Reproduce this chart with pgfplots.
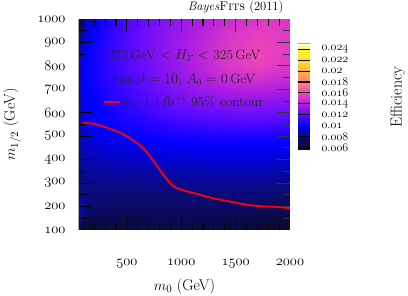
\documentclass[border=0pt]{standalone}
\usepackage{pgfplots}
\pgfplotsset{compat=1.18}
\usepackage{pgfplotstable}
\newcommand{\osf}[1]{{\usefont{OML}{cmm}{m}{it}#1}}
\pgfplotstableread{
x y c
60 1000 0.0060
120 1000 0.0090
300 1000 0.0105
600 1000 0.0120
1000 1000 0.0134
1400 1000 0.0147
1700 1000 0.0153
2000 1000 0.0153
60 950 0.0075
120 950 0.0095
300 950 0.0107
600 950 0.0121
1000 950 0.0136
1400 950 0.0150
1700 950 0.0156
2000 950 0.0154
60 900 0.0088
120 900 0.0098
300 900 0.0108
600 900 0.0122
1000 900 0.0137
1400 900 0.0152
1700 900 0.0158
2000 900 0.0155
60 850 0.0092
120 850 0.0100
300 850 0.0109
600 850 0.0122
1000 850 0.0137
1400 850 0.0153
1700 850 0.0160
2000 850 0.0155
60 800 0.0094
120 800 0.0100
300 800 0.0109
600 800 0.0121
1000 800 0.0136
1400 800 0.0152
1700 800 0.0158
2000 800 0.0153
60 750 0.0095
120 750 0.0100
300 750 0.0108
600 750 0.0119
1000 750 0.0134
1400 750 0.0147
1700 750 0.0150
2000 750 0.0147
60 700 0.0095
120 700 0.0099
300 700 0.0106
600 700 0.0117
1000 700 0.0130
1400 700 0.0140
1700 700 0.0142
2000 700 0.0140
60 650 0.0094
120 650 0.0098
300 650 0.0104
600 650 0.0114
1000 650 0.0125
1400 650 0.0131
1700 650 0.0132
2000 650 0.0130
60 600 0.0093
120 600 0.0097
300 600 0.0102
600 600 0.0110
1000 600 0.0119
1400 600 0.0123
1700 600 0.0124
2000 600 0.0122
60 550 0.0092
120 550 0.0096
300 550 0.0100
600 550 0.0105
1000 550 0.0111
1400 550 0.0114
1700 550 0.0115
2000 550 0.0113
60 500 0.0090
120 500 0.0094
300 500 0.0098
600 500 0.0101
1000 500 0.0104
1400 500 0.0106
1700 500 0.0106
2000 500 0.0104
60 450 0.0088
120 450 0.0091
300 450 0.0094
600 450 0.0096
1000 450 0.0098
1400 450 0.0099
1700 450 0.0099
2000 450 0.0097
60 400 0.0085
120 400 0.0088
300 400 0.0090
600 400 0.0092
1000 400 0.0093
1400 400 0.0094
1700 400 0.0094
2000 400 0.0092
60 350 0.0082
120 350 0.0085
300 350 0.0086
600 350 0.0087
1000 350 0.0088
1400 350 0.0089
1700 350 0.0089
2000 350 0.0087
60 300 0.0080
120 300 0.0082
300 300 0.0083
600 300 0.0083
1000 300 0.0084
1400 300 0.0084
1700 300 0.0084
2000 300 0.0082
60 250 0.0085
120 250 0.0080
300 250 0.0079
600 250 0.0079
1000 250 0.0079
1400 250 0.0080
1700 250 0.0079
2000 250 0.0077
60 200 0.0095
120 200 0.0080
300 200 0.0075
600 200 0.0075
1000 200 0.0075
1400 200 0.0075
1700 200 0.0074
2000 200 0.0072
60 150 0.0090
120 150 0.0070
300 150 0.0070
600 150 0.0070
1000 150 0.0070
1400 150 0.0070
1700 150 0.0068
2000 150 0.0065
60 100 0.0065
120 100 0.0062
300 100 0.0066
600 100 0.0067
1000 100 0.0067
1400 100 0.0066
1700 100 0.0063
2000 100 0.0060
}\effdata
\pgfplotstableread{
x y
90 558
207 552
330 534
453 512
575 477
667 441
759 384
836 335
913 292
1000 272
1143 254
1296 235
1449 221
1663 204
1848 199
2000 193
}\contour
\pgfplotstableread{
x y c
0 0.0055 0.0055
1 0.0055 0.0055
0 0.0065 0.0065
1 0.0065 0.0065
0 0.0075 0.0075
1 0.0075 0.0075
0 0.0085 0.0085
1 0.0085 0.0085
0 0.0095 0.0095
1 0.0095 0.0095
0 0.0105 0.0105
1 0.0105 0.0105
0 0.0115 0.0115
1 0.0115 0.0115
0 0.0125 0.0125
1 0.0125 0.0125
0 0.0135 0.0135
1 0.0135 0.0135
0 0.0145 0.0145
1 0.0145 0.0145
0 0.0155 0.0155
1 0.0155 0.0155
0 0.0165 0.0165
1 0.0165 0.0165
0 0.0175 0.0175
1 0.0175 0.0175
0 0.0185 0.0185
1 0.0185 0.0185
0 0.0195 0.0195
1 0.0195 0.0195
0 0.0205 0.0205
1 0.0205 0.0205
0 0.0215 0.0215
1 0.0215 0.0215
0 0.0225 0.0225
1 0.0225 0.0225
0 0.0235 0.0235
1 0.0235 0.0235
0 0.0245 0.0245
1 0.0245 0.0245
0 0.0250 0.0250
1 0.0250 0.0250
}\cbar
\pgfplotsset{
  colormap={eff}{rgb255(5.5cm)=(5,5,20); rgb255(6cm)=(10,10,40); rgb255(8cm)=(10,10,120); rgb255(10cm)=(0,0,255); rgb255(12cm)=(95,10,255); rgb255(14cm)=(175,30,225); rgb255(16cm)=(240,70,185); rgb255(18cm)=(255,130,120); rgb255(20cm)=(255,175,70); rgb255(22cm)=(255,225,30); rgb255(24cm)=(255,250,40); rgb255(25cm)=(255,252,200)},
}
\begin{document}
\begin{tikzpicture}
\path[use as bounding box] (-79pt,-66pt) rectangle (329pt,230pt);
\begin{axis}[
  at={(0pt,0pt)}, anchor=south west,
  scale only axis, width=211pt, height=211pt,
  xmin=60, xmax=2000, ymin=100, ymax=1000,
  clip=false,
  unbounded coords=jump,
  axis line style={gray!70, line width=1pt},
  xtick={500,1000,1500,2000},
  xticklabels={\osf{500},\osf{1000},\osf{1500},\osf{2000}},
  ytick={100,200,...,1000},
  yticklabels={\osf{100},\osf{200},\osf{300},\osf{400},\osf{500},\osf{600},\osf{700},\osf{800},\osf{900},\osf{1000}},
  major tick length=0pt,
  xticklabel style={font=\fontsize{15}{17}\selectfont, yshift=-26pt},
  yticklabel style={font=\fontsize{15}{17}\selectfont, xshift=-10pt},
  xlabel={$m_0$ (GeV)}, ylabel={$m_{1/2}$ (GeV)},
  xlabel style={font=\fontsize{15.5}{17}\selectfont, at={(axis description cs:0.5,-0.27)}, anchor=center},
  ylabel style={font=\fontsize{15.5}{17}\selectfont, at={(axis description cs:-0.317,0.5)}, anchor=center},
  colormap name=eff,
  point meta min=0.0055, point meta max=0.025,
  legend style={draw=none, fill=none, at={(axis description cs:0.5,0.607)}, anchor=center,
    font=\fontsize{13.5}{15}\selectfont, text=black!85},
  legend image code/.code={\draw[#1] (0pt,0pt) -- (16pt,0pt);},
  legend cell align=left,
]
\addplot[surf, shader=interp, mesh/cols=8, point meta=explicit, forget plot]
  table[x=x, y=y, meta=c] {\effdata};
% tick marks drawn over the map
\addplot[black, line width=1.1pt, forget plot] coordinates {
(100,100)(100,130)(100,nan) (200,100)(200,130)(200,nan) (300,100)(300,130)(300,nan) (400,100)(400,130)(400,nan)
(600,100)(600,130)(600,nan) (700,100)(700,130)(700,nan) (800,100)(800,130)(800,nan) (900,100)(900,130)(900,nan)
(1100,100)(1100,130)(1100,nan) (1200,100)(1200,130)(1200,nan) (1300,100)(1300,130)(1300,nan) (1400,100)(1400,130)(1400,nan)
(1600,100)(1600,130)(1600,nan) (1700,100)(1700,130)(1700,nan) (1800,100)(1800,130)(1800,nan) (1900,100)(1900,130)(1900,nan)
(500,100)(500,155)(500,nan) (1000,100)(1000,155)(1000,nan) (1500,100)(1500,155)(1500,nan)
(100,1000)(100,970)(100,nan) (200,1000)(200,970)(200,nan) (300,1000)(300,970)(300,nan) (400,1000)(400,970)(400,nan)
(600,1000)(600,970)(600,nan) (700,1000)(700,970)(700,nan) (800,1000)(800,970)(800,nan) (900,1000)(900,970)(900,nan)
(1100,1000)(1100,970)(1100,nan) (1200,1000)(1200,970)(1200,nan) (1300,1000)(1300,970)(1300,nan) (1400,1000)(1400,970)(1400,nan)
(1600,1000)(1600,970)(1600,nan) (1700,1000)(1700,970)(1700,nan) (1800,1000)(1800,970)(1800,nan) (1900,1000)(1900,970)(1900,nan)
(500,1000)(500,945)(500,nan) (1000,1000)(1000,945)(1000,nan) (1500,1000)(1500,945)(1500,nan)
(60,150)(124,150)(nan,150) (60,250)(124,250)(nan,250) (60,350)(124,350)(nan,350) (60,450)(124,450)(nan,450)
(60,550)(124,550)(nan,550) (60,650)(124,650)(nan,650) (60,750)(124,750)(nan,750) (60,850)(124,850)(nan,850) (60,950)(124,950)(nan,950)
(60,200)(180,200)(nan,200) (60,300)(180,300)(nan,300) (60,400)(180,400)(nan,400) (60,500)(180,500)(nan,500)
(60,600)(180,600)(nan,600) (60,700)(180,700)(nan,700) (60,800)(180,800)(nan,800) (60,900)(180,900)(nan,900)
};
\addplot[black!80, line width=1.1pt, forget plot] coordinates {
(2000,150)(1936,150)(nan,150) (2000,250)(1936,250)(nan,250) (2000,350)(1936,350)(nan,350) (2000,450)(1936,450)(nan,450)
(2000,550)(1936,550)(nan,550) (2000,650)(1936,650)(nan,650) (2000,750)(1936,750)(nan,750) (2000,850)(1936,850)(nan,850) (2000,950)(1936,950)(nan,950)
(2000,200)(1880,200)(nan,200) (2000,300)(1880,300)(nan,300) (2000,400)(1880,400)(nan,400) (2000,500)(1880,500)(nan,500)
(2000,600)(1880,600)(nan,600) (2000,700)(1880,700)(nan,700) (2000,800)(1880,800)(nan,800) (2000,900)(1880,900)(nan,900)
};
\addplot[red, line width=1.8pt, smooth] table {\contour};
\addlegendentry{$\alpha_T$ 1.1\,fb$^{-1}$ 95\% contour}
\node[font=\fontsize{13.5}{15}\selectfont, text=black!85] at (axis description cs:0.5,0.825) {275\,GeV $<H_T<$ 325\,GeV};
\node[font=\fontsize{13.5}{15}\selectfont, text=black!85] at (axis description cs:0.5,0.711) {$\tan\beta=10$, $A_0=0$\,GeV};
\node[font=\fontsize{12.5}{14}\selectfont, anchor=base east] at (axis description cs:0.985,1.04) {\textit{Bayes}\textsc{Fits} (2011)};
\end{axis}
% colour bar
\begin{axis}[
  at={(219pt,186pt)}, anchor=north west,
  scale only axis, width=12pt, height=106pt,
  xmin=0, xmax=1, ymin=0.0055, ymax=0.025,
  clip=false,
  unbounded coords=jump,
  axis line style={gray!70, line width=1pt},
  colormap name=eff,
  point meta min=0.0055, point meta max=0.025,
  xtick=\empty,
  ytick={0.006,0.008,...,0.0241},
  yticklabels={\osf{0\char58 006},\osf{0\char58 008},\osf{0\char58 01},\osf{0\char58 012},\osf{0\char58 014},\osf{0\char58 016},\osf{0\char58 018},\osf{0\char58 02},\osf{0\char58 022},\osf{0\char58 024}},
  scaled y ticks=false,
  yticklabel pos=right,
  major tick length=0pt,
  yticklabel style={font=\fontsize{13}{14}\selectfont, xshift=8pt},
  ylabel={Efficiency},
  ylabel style={font=\fontsize{16}{17}\selectfont, at={(axis description cs:8.3,0.5)}, anchor=center, rotate=0},
]
\addplot[surf, shader=interp, mesh/cols=2, point meta=explicit, forget plot]
  table[x=x, y=y, meta=c] {\cbar};
\addplot[black, line width=1.1pt, forget plot] coordinates {
(0,0.006)(1,0.006)(nan,0.006) (0,0.008)(1,0.008)(nan,0.008) (0,0.010)(1,0.010)(nan,0.010)
(0,0.012)(1,0.012)(nan,0.012) (0,0.014)(1,0.014)(nan,0.014) (0,0.016)(1,0.016)(nan,0.016)
(0,0.018)(1,0.018)(nan,0.018) (0,0.020)(1,0.020)(nan,0.020) (0,0.022)(1,0.022)(nan,0.022)
(0,0.024)(1,0.024)(nan,0.024)
};
\end{axis}
\end{tikzpicture}
\end{document}
